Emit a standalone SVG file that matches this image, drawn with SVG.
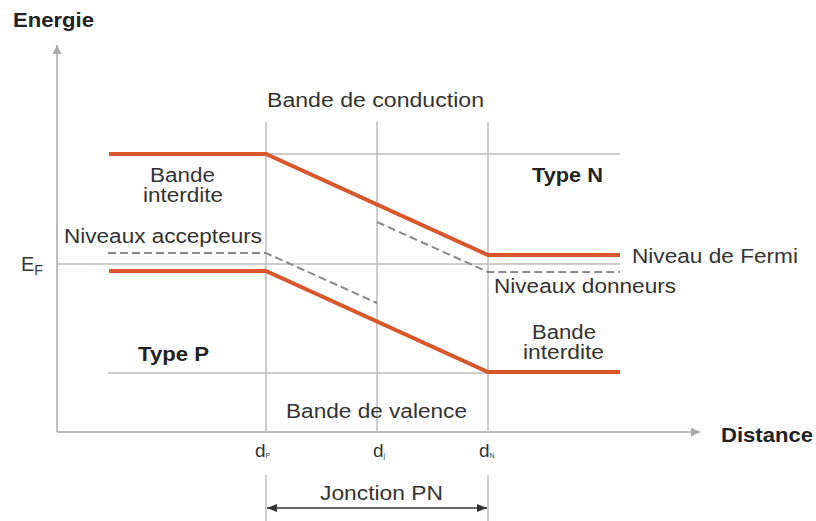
<svg xmlns="http://www.w3.org/2000/svg" width="816" height="521" viewBox="0 0 816 521">
<style>
.t{font-family:"Liberation Sans",Arial,sans-serif;font-size:20px;fill:#333}
.b{font-family:"Liberation Sans",Arial,sans-serif;font-size:20px;font-weight:bold;fill:#222}
.s{font-family:"Liberation Sans",Arial,sans-serif;fill:#333}
.grid{stroke:#bdbdbd;stroke-width:1.5;fill:none}
.axis{stroke:#a8a8a8;stroke-width:1.5;fill:none}
.band{stroke:#d9552a;stroke-width:4;fill:none}
.lvl{stroke:#8a8a8a;stroke-width:2;stroke-dasharray:8 4;fill:none}
.dim{stroke:#333;stroke-width:1.5;fill:none}
</style>
<defs>
<marker id="ax" viewBox="0 0 10 10" refX="10" refY="5" markerWidth="9" markerHeight="9" markerUnits="userSpaceOnUse" orient="auto"><path d="M0,0 L10,5 L0,10 Z" fill="#a8a8a8"/></marker>
<marker id="dm" viewBox="0 0 10 10" refX="10" refY="5" markerWidth="10" markerHeight="10" markerUnits="userSpaceOnUse" orient="auto-start-reverse"><path d="M0,1 L10,5 L0,9 Z" fill="#333"/></marker>
</defs>
<rect width="816" height="521" fill="#fff"/>
<g id="axes">
<line class="axis" x1="57" y1="432" x2="57" y2="45" marker-end="url(#ax)"/>
<line class="axis" x1="57" y1="432" x2="700" y2="432" marker-end="url(#ax)"/>
<text class="b" x="13" y="27" font-size="18" textLength="81" lengthAdjust="spacingAndGlyphs">Energie</text>
<text class="b" x="721" y="442" textLength="92" lengthAdjust="spacingAndGlyphs">Distance</text>
</g>
<g id="grid">
<line class="grid" x1="266" y1="122" x2="266" y2="432"/>
<line class="grid" x1="377" y1="122" x2="377" y2="432"/>
<line class="grid" x1="488" y1="122" x2="488" y2="432"/>
<line class="grid" x1="266" y1="154" x2="620" y2="154"/>
<line class="grid" x1="57" y1="264" x2="620" y2="264"/>
<line class="grid" x1="108" y1="373" x2="620" y2="373"/>
<line class="grid" x1="266" y1="475" x2="266" y2="521"/>
<line class="grid" x1="488" y1="475" x2="488" y2="521"/>
</g>
<g id="connectors">
<path id="conduction-band" class="band" d="M109,154 L266,154 L488,255 L620,255"/>
<path id="valence-band" class="band" d="M109,271 L266,271 L488,372 L620,372"/>
<path id="acceptor-levels" class="lvl" d="M108,253 L266,253 L377,303"/>
<path id="donor-levels" class="lvl" d="M377,222 L488,272 L620,272"/>
<line id="junction-arrow" class="dim" x1="267" y1="508" x2="487" y2="508" marker-start="url(#dm)" marker-end="url(#dm)"/>
</g>
<g id="labels">
<text class="t" x="267" y="107" textLength="217" lengthAdjust="spacingAndGlyphs">Bande de conduction</text>
<text class="t" x="150" y="182" textLength="65" lengthAdjust="spacingAndGlyphs">Bande</text>
<text class="t" x="143" y="202" textLength="80" lengthAdjust="spacingAndGlyphs">interdite</text>
<text class="t" x="64" y="243" textLength="198" lengthAdjust="spacingAndGlyphs">Niveaux accepteurs</text>
<text class="b" x="532" y="182" textLength="71" lengthAdjust="spacingAndGlyphs">Type N</text>
<text class="t" x="632" y="263" textLength="166" lengthAdjust="spacingAndGlyphs">Niveau de Fermi</text>
<text class="t" x="494" y="293" textLength="182" lengthAdjust="spacingAndGlyphs">Niveaux donneurs</text>
<text class="t" x="532" y="339" textLength="64" lengthAdjust="spacingAndGlyphs">Bande</text>
<text class="t" x="523" y="359" textLength="81" lengthAdjust="spacingAndGlyphs">interdite</text>
<text class="b" x="138" y="361" textLength="71" lengthAdjust="spacingAndGlyphs">Type P</text>
<text class="t" x="286" y="418" textLength="181" lengthAdjust="spacingAndGlyphs">Bande de valence</text>
<text class="t" x="320" y="500" textLength="123" lengthAdjust="spacingAndGlyphs">Jonction PN</text>
<text class="s" x="21" y="271" font-size="20">E<tspan font-size="14" dy="4">F</tspan></text>
<text class="s" x="255" y="457" font-size="19">d<tspan font-size="7" dy="1">P</tspan></text>
<text class="s" x="373" y="457" font-size="19">d<tspan font-size="7" dy="1">j</tspan></text>
<text class="s" x="479" y="457" font-size="19">d<tspan font-size="7" dy="1">N</tspan></text>
</g>
</svg>
